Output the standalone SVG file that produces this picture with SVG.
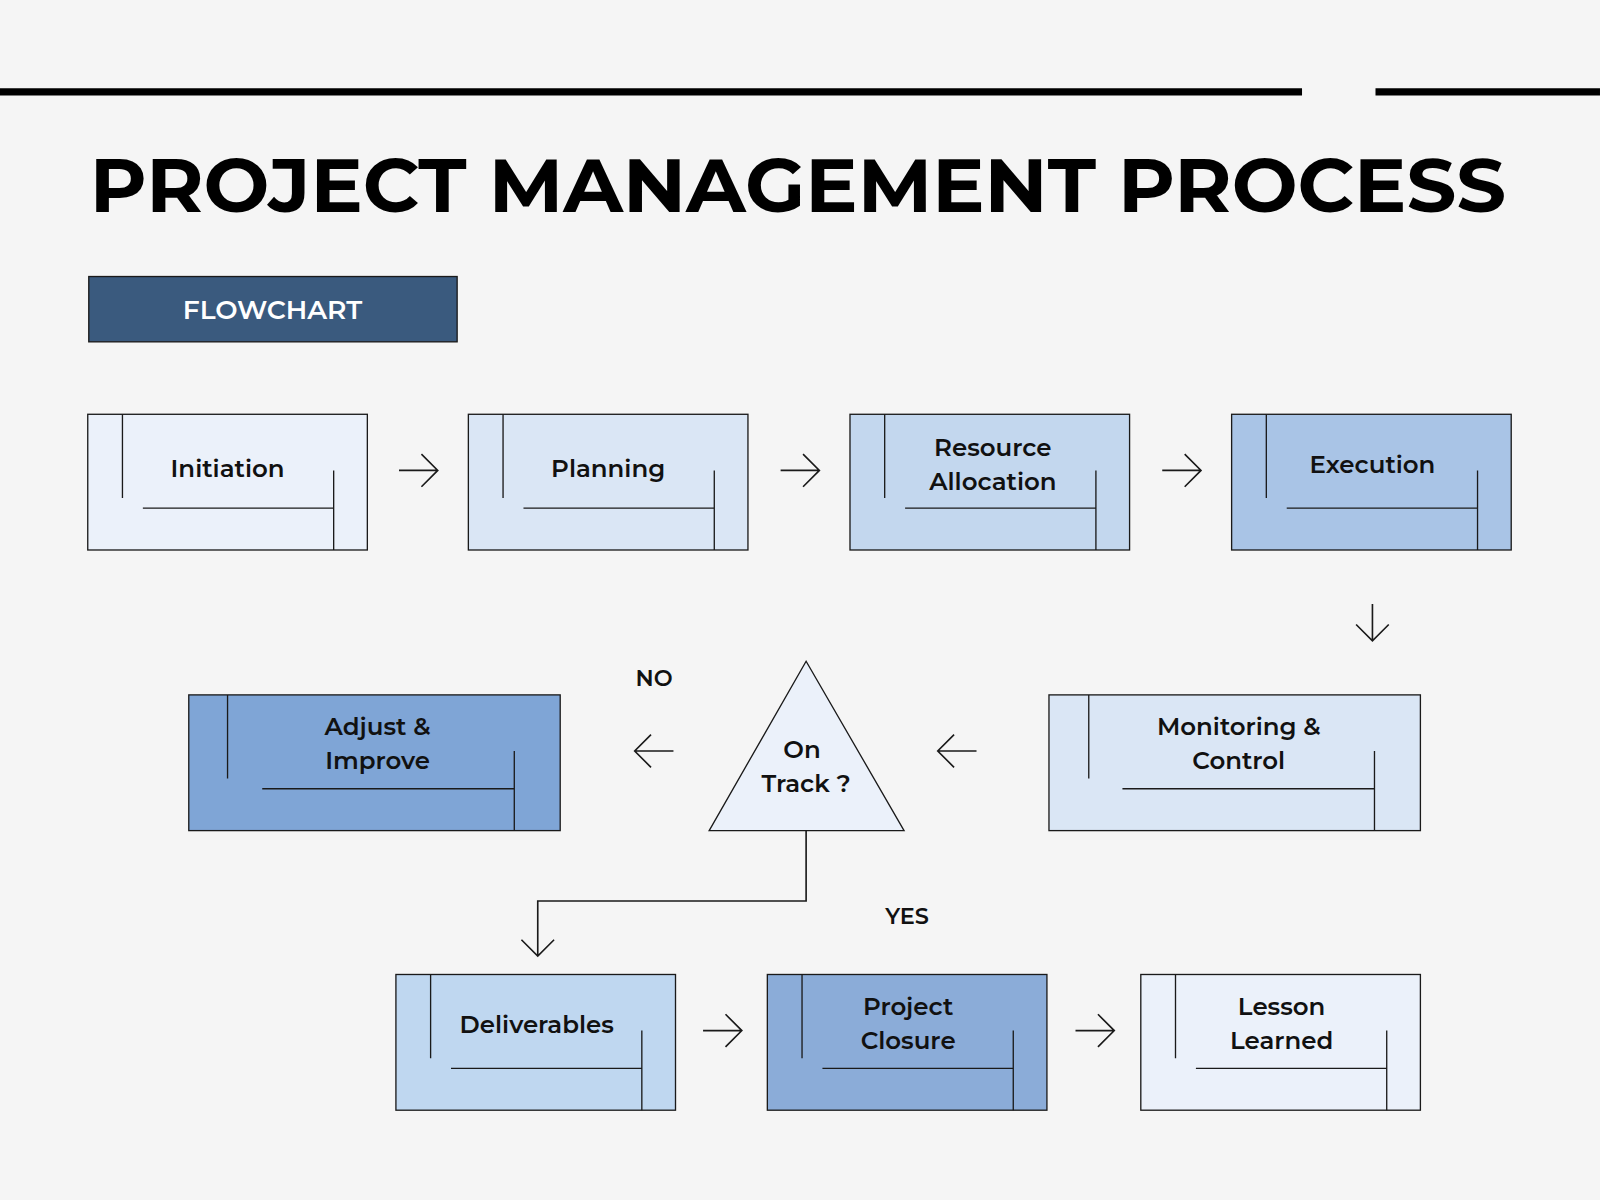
<svg xmlns="http://www.w3.org/2000/svg" width="1600" height="1200" viewBox="0 0 1600 1200">
<style>
.b{stroke:#1a1a1a;stroke-width:1.3}
.l{stroke:#1a1a1a;stroke-width:1.3;fill:none}
.t{font-family:Montserrat,"Open Sans","Liberation Sans",sans-serif;font-weight:600;font-size:24px;fill:#111;text-anchor:middle}
.a{stroke:#1a1a1a;stroke-width:1.6;fill:none}
</style>
<defs>
<g id="dec"><path class="l" d="M34 0V82M54 92H241M241 55V133"/></g>
</defs>
<rect width="1600" height="1200" fill="#F5F5F5"/>
<g transform="scale(1.0204)">
<path d="M0 90H1276M1348 90H1568" stroke="#000" stroke-width="7"/>
<text x="782" y="208" font-family="Montserrat,'DejaVu Sans',sans-serif" font-weight="700" font-size="74" text-anchor="middle" textLength="1388" lengthAdjust="spacingAndGlyphs" fill="#000">PROJECT MANAGEMENT PROCESS</text>
<g id="flowchart"><rect x="87" y="271" width="361" height="64" fill="#3A5A7E" class="b"/><text x="267" y="313" class="t" style="fill:#fff;font-size:26px">FLOWCHART</text></g>

<g id="initiation" transform="translate(86,406)"><rect width="274" height="133" fill="#EBF1FA" class="b"/><use href="#dec"/><text x="137" y="61" class="t">Initiation</text></g>
<g id="planning" transform="translate(459,406)"><rect width="274" height="133" fill="#DAE6F5" class="b"/><use href="#dec"/><text x="137" y="61" class="t">Planning</text></g>
<g id="resource" transform="translate(833,406)"><rect width="274" height="133" fill="#C3D7EE" class="b"/><use href="#dec"/><text x="140" y="41" class="t">Resource</text><text x="140" y="74" class="t">Allocation</text></g>
<g id="execution" transform="translate(1207,406)"><rect width="274" height="133" fill="#A9C4E6" class="b"/><use href="#dec"/><text x="138" y="58" class="t">Execution</text></g>

<g id="monitoring" transform="translate(1028,681)"><rect width="364" height="133" fill="#DAE6F5" class="b"/><path class="l" d="M39 0V82M72 92H319M319 55V133"/><text x="186" y="39" class="t">Monitoring &amp;</text><text x="186" y="73" class="t">Control</text></g>
<g id="adjust" transform="translate(185,681)"><rect width="364" height="133" fill="#7FA5D6" class="b"/><path class="l" d="M38 0V82M72 92H319M319 55V133"/><text x="185" y="39" class="t">Adjust &amp;</text><text x="185" y="73" class="t">Improve</text></g>
<g id="ontrack"><polygon points="790,648 886,814 695,814" fill="#EBF1FA" class="b"/><text x="786" y="743" class="t">On</text><text x="790" y="776" class="t">Track ?</text></g>

<g id="deliverables" transform="translate(388,955)"><rect width="274" height="133" fill="#BFD7F0" class="b"/><use href="#dec"/><text x="138" y="57" class="t">Deliverables</text></g>
<g id="closure" transform="translate(752,955)"><rect width="274" height="133" fill="#8BACD8" class="b"/><use href="#dec"/><text x="138" y="40" class="t">Project</text><text x="138" y="73" class="t">Closure</text></g>
<g id="lesson" transform="translate(1118,955)"><rect width="274" height="133" fill="#EBF1FA" class="b"/><use href="#dec"/><text x="138" y="40" class="t">Lesson</text><text x="138" y="73" class="t">Learned</text></g>

<g id="connectors">
<path class="a" d="M391 461H429M413 445L429 461L413 477"/>
<path class="a" d="M765 461H803M787 445L803 461L787 477"/>
<path class="a" d="M1139 461H1177M1161 445L1177 461L1161 477"/>
<path class="a" d="M1345 592V628M1329 612L1345 628L1361 612"/>
<path class="a" d="M957 736H919M935 720L919 736L935 752"/>
<path class="a" d="M660 736H622M638 720L622 736L638 752"/>
<path class="a" d="M790 814V883H527V937M511 921L527 937L543 921"/>
<path class="a" d="M689 1010H727M711 994L727 1010L711 1026"/>
<path class="a" d="M1054 1010H1092M1076 994L1092 1010L1076 1026"/>
<text x="641" y="672" class="t" style="font-size:22px">NO</text>
<text x="889" y="906" class="t" style="font-size:22px">YES</text>
</g>
</g>
</svg>
